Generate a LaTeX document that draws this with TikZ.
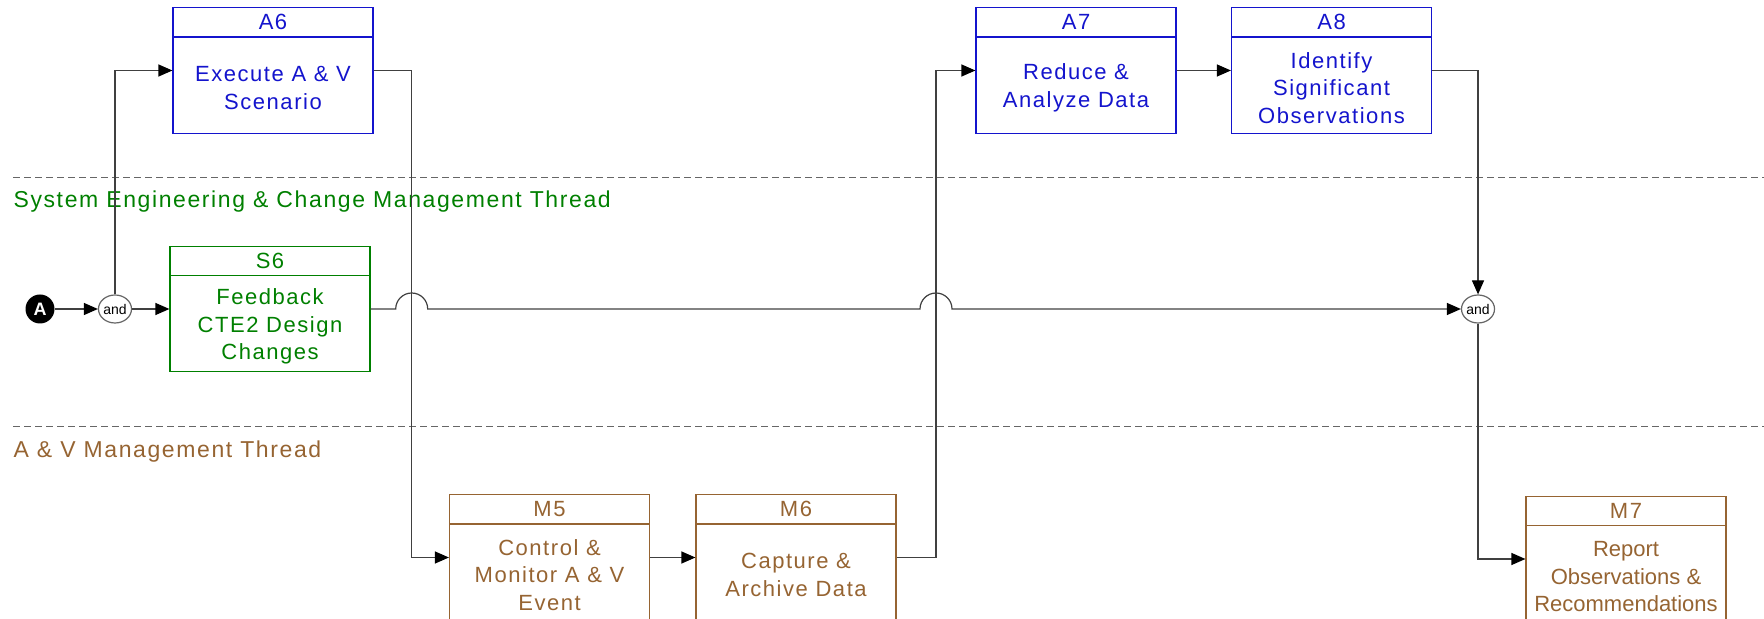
\documentclass[tikz,border=0pt]{standalone}
\usepackage{fontspec}
\setmainfont{Liberation Sans}[LetterSpace=7]
\newfontfamily\plainsans{Liberation Sans}
\usetikzlibrary{shapes.multipart,shapes.geometric,arrows.meta}
\definecolor{actblue}{RGB}{20,20,205}
\definecolor{segreen}{RGB}{0,128,0}
\definecolor{mgtbrown}{RGB}{150,100,50}
\newcommand{\boxhead}[1]{\parbox[c][14pt][c]{100pt}{\centering #1}}
\newcommand{\boxbody}[1]{\parbox[c][47.5pt][c]{100pt}{\centering\vspace*{3pt}#1}}

\begin{document}
\begin{tikzpicture}
[x=0.5pt, y=0.5pt, >={Triangle[length=7pt,width=6pt,color=black]}, semithick,
 proc/.style={rectangle split, rectangle split parts=2, draw=#1, text=#1,
   fill=white, inner sep=0pt, font=\fontsize{11}{13.8}\selectfont},
 gate/.style={ellipse, draw=black!60, fill=white, inner sep=0pt,
   minimum width=16.5pt, minimum height=14pt, font=\plainsans\fontsize{7}{7}\selectfont},
 flow/.style={->, draw=black!75},
 lane/.style={anchor=west, text=#1, inner sep=0pt, font=\fontsize{11.5}{13}\selectfont},
 divider/.style={draw=black!60, thin, dash pattern=on 3.5pt off 2pt}]
\useasboundingbox (0,0) rectangle (1764,-619);
% lane borders and titles
\draw[divider] (13,-177) -- (1764,-177);
\draw[divider] (13,-426) -- (1764,-426);
\node[lane=segreen] (lane1) at (13,-202) {System Engineering \& Change Management Thread};
\node[lane=mgtbrown] (lane2) at (13,-452) {A \& V Management Thread};
% start and gates
\node[circle, fill=black, text=white, inner sep=0pt, minimum size=14.5pt,
  font=\plainsans\bfseries\fontsize{9}{9}\selectfont] (start) at (40,-309) {A};
\node[gate] (and1) at (115,-309) {and};
\node[gate] (and2) at (1478,-309) {and};
% activities
\node[proc=actblue] (A6) at (273,-70.5) {\boxhead{A6}\nodepart{two}\boxbody{Execute A \& V\\Scenario}};
\node[proc=actblue] (A7) at (1076,-70.5) {\boxhead{A7}\nodepart{two}\boxbody{Reduce \&\\Analyze Data}};
\node[proc=actblue] (A8) at (1331.5,-70.5) {\boxhead{A8}\nodepart{two}\boxbody{Identify\\Significant\\Observations}};
\node[proc=segreen] (S6) at (270,-309) {\boxhead{S6}\nodepart{two}\boxbody{Feedback\\CTE2 Design\\Changes}};
\node[proc=mgtbrown] (M5) at (549.5,-557.5) {\boxhead{M5}\nodepart{two}\boxbody{Control \&\\Monitor A \& V\\Event}};
\node[proc=mgtbrown] (M6) at (796,-557.5) {\boxhead{M6}\nodepart{two}\boxbody{Capture \&\\Archive Data}};
\node[proc=mgtbrown] (M7) at (1626,-559) {\boxhead{M7}\nodepart{two}\boxbody{\plainsans Report\\Observations \&\\Recommendations}};
% crossings on the feedback line
\coordinate (cross1) at (411.7,-309);
\coordinate (cross2) at (936,-309);
% connectors
\draw[flow] (start) -- (and1);
\draw[flow] (and1) -- (S6);
\draw[flow] (and1) |- (A6);
\draw[flow] (S6) -- ([xshift=-8pt]cross1) arc[start angle=180, end angle=0, radius=8pt]
  -- ([xshift=-8pt]cross2) arc[start angle=180, end angle=0, radius=8pt] -- (and2);
\draw[flow] (A6) -| (cross1) |- (M5);
\draw[flow] (M5) -- (M6);
\draw[flow] (M6) -| (cross2) |- (A7);
\draw[flow] (A7) -- (A8);
\draw[flow] (A8) -| (and2);
\draw[flow] (and2) |- (M7);
\end{tikzpicture}
\end{document}
